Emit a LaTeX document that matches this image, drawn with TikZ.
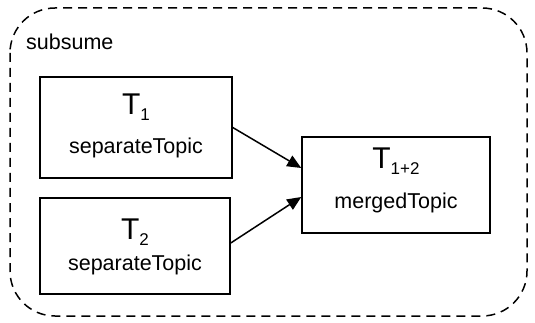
\documentclass[tikz,border=0pt]{standalone}
\usepackage{fontspec}
\setmainfont{Liberation Sans}
\usetikzlibrary{arrows.meta}
\tikzset{
  topicbox/.style={draw, line width=1.5pt, minimum width=190pt, minimum height=100pt, inner sep=0pt},
  bigT/.style={inner sep=0pt, font=\fontsize{30}{32}\selectfont},
  lbl/.style={inner sep=0pt, font=\fontsize{21.5}{25}\selectfont},
  flow/.style={line width=1.5pt, -{Triangle[length=14pt,width=12pt]}},
  group/.style={line width=1.5pt, dash pattern=on 9pt off 6pt, rounded corners=45pt}
}
\newcommand{\sbs}[1]{\raisebox{-6pt}{\fontsize{17}{17}\selectfont #1}}
\begin{document}
\begin{tikzpicture}[x=1pt,y=-1pt]
\useasboundingbox (0,0) rectangle (535,323);
% enclosing group
\draw[group] (10,8) rectangle (527,316);
\node[lbl, anchor=west] (sub) at (26,42) {subsume};
% topic boxes
\node[topicbox, minimum width=192pt, minimum height=101pt] (t1) at (136,127.5) {};
\node[topicbox, minimum width=190pt, minimum height=96pt] (t2) at (135,246) {};
\node[topicbox, minimum width=188pt, minimum height=96pt] (m) at (396,185) {};
% labels inside the boxes
\node[bigT] (t1a) at ([yshift=20pt]t1.center) {T\sbs{1}};
\node[lbl] (t1b) at ([yshift=-20pt]t1.center) {separateTopic};
\node[bigT] (t2a) at ([yshift=14pt]t2.center) {T\sbs{2}};
\node[lbl] (t2b) at ([yshift=-19pt]t2.center) {separateTopic};
\node[bigT] (ma) at ([yshift=24pt]m.center) {T\sbs{1+2}};
\node[lbl] (mb) at ([yshift=-18pt]m.center) {mergedTopic};
% merge arrows
\draw[flow] (t1.east) -- ([yshift=17pt]m.west);
\draw[flow] ([yshift=3pt]t2.east) -- ([yshift=-12pt]m.west);
\end{tikzpicture}
\end{document}
